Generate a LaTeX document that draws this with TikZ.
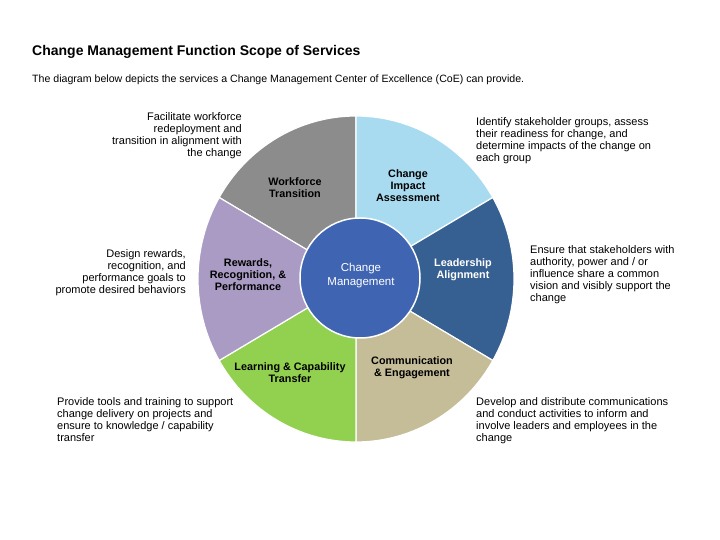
\documentclass[tikz,border=0pt]{standalone}
\usepackage{fontspec}
\setmainfont{Liberation Sans}
\definecolor{cgray}{HTML}{8C8C8C}
\definecolor{clblue}{HTML}{A9DBF0}
\definecolor{cdblue}{HTML}{376092}
\definecolor{cbeige}{HTML}{C4BD97}
\definecolor{cgreen}{HTML}{92D050}
\definecolor{cpurple}{HTML}{A99BC3}
\definecolor{ccenter}{HTML}{3F64B2}
\tikzset{
  slice/.style={draw=white, line width=1.2pt},
  desc/.style={inner sep=0pt, font=\fontsize{11}{12}\selectfont},
  seglabel/.style={inner sep=0pt, align=center, font=\fontsize{10.8}{12}\selectfont\bfseries},
}
\newcommand{\slicefill}[3]{%
  \fill[#1, slice] (356,261) -- ++({158*cos(#2)},{163*sin(#2)})
    arc[start angle=#2, end angle=#3, x radius=158, y radius=163] -- cycle;}
\begin{document}
\begin{tikzpicture}[x=1pt,y=1pt]
\useasboundingbox[fill=white] (0,0) rectangle (720,540);
% title
\node[anchor=west, inner sep=0pt, font=\fontsize{14}{16}\selectfont\bfseries] (title) at (32,488) {Change Management Function Scope of Services};
\node[anchor=west, inner sep=0pt, font=\fontsize{10.6}{12}\selectfont] (sub) at (32,460) {The diagram below depicts the services a Change Management Center of Excellence (CoE) can provide.};
% slices
\slicefill{cgray}{90}{150}
\slicefill{clblue}{30}{90}
\slicefill{cdblue}{-30}{30}
\slicefill{cbeige}{-90}{-30}
\slicefill{cgreen}{-150}{-90}
\slicefill{cpurple}{150}{210}
\fill[ccenter, draw=white, line width=1.5pt] (360,262) circle[radius=60];
% segment labels
\node[seglabel] (wt) at (295,352) {Workforce\\Transition};
\node[seglabel] (cia) at (408,354) {Change\\Impact\\Assessment};
\node[seglabel] (rrp) at (248,265) {Rewards,\\Recognition, \&\\Performance};
\node[seglabel, text=white] (la) at (463,270) {Leadership\\Alignment};
\node[inner sep=0pt, align=center, text=white, font=\fontsize{11.5}{14}\selectfont] (cm) at (361,264) {Change\\Management};
\node[seglabel] (lct) at (290,167) {Learning \& Capability\\Transfer};
\node[seglabel] (ce) at (412,172) {Communication\\\& Engagement};
% descriptions
\node[desc, anchor=north east, align=right] (fac) at (242,428) {Facilitate workforce\\redeployment and\\transition in alignment with\\the change};
\node[desc, anchor=north west, align=left] (idf) at (476,423) {Identify stakeholder groups, assess\\their readiness for change, and\\determine impacts of the change on\\each group};
\node[desc, anchor=north east, align=right] (des) at (186,291) {Design rewards,\\recognition, and\\performance goals to\\promote desired behaviors};
\node[desc, anchor=north west, align=left] (ens) at (530,295) {Ensure that stakeholders with\\authority, power and / or\\influence share a common\\vision and visibly support the\\change};
\node[desc, anchor=north west, align=left] (pro) at (57,143) {Provide tools and training to support\\change delivery on projects and\\ensure to knowledge / capability\\transfer};
\node[desc, anchor=north west, align=left] (dev) at (476,143) {Develop and distribute communications\\and conduct activities to inform and\\involve leaders and employees in the\\change};
\end{tikzpicture}
\end{document}
